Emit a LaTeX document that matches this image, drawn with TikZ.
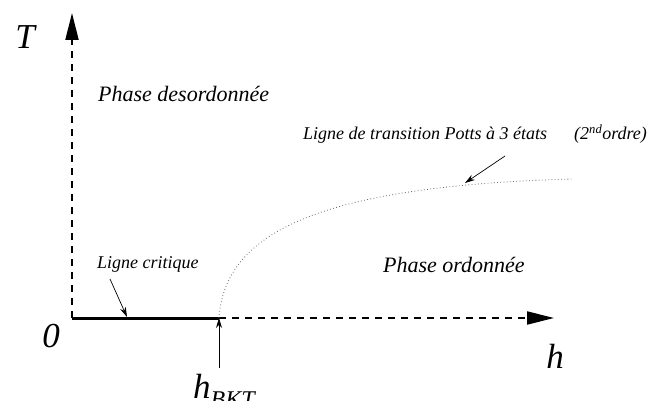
\documentclass[tikz,border=0pt]{standalone}
\usepackage{fontspec}
\setmainfont{Liberation Serif}
\newfontfamily\timesit{Liberation Serif Italic}
\usetikzlibrary{arrows.meta}
\begin{document}
\begin{tikzpicture}[
        x=1pt, y=-1pt,
        axis/.style={line width=2pt, dash pattern=on 7pt off 6pt},
        bigtip/.style={-{Triangle[length=27pt, width=13pt]}},
        pointer/.style={-{Stealth[length=10pt, width=6pt]}, line width=0.7pt},
        big/.style={font=\timesit\fontsize{35}{40}\selectfont, inner sep=0pt},
        phase/.style={font=\timesit\fontsize{22}{26}\selectfont, inner sep=0pt, anchor=base west},
        note/.style={font=\timesit\fontsize{18}{22}\selectfont, inner sep=0pt, anchor=base west},
      ]
        \useasboundingbox (0,0) rectangle (648,401);

        % Axes
        \coordinate (O) at (72,318);
        \coordinate (Ttip) at (72,13);
        \coordinate (htip) at (554,318);
        \coordinate (hBKT) at (219,318);
        \draw[axis, bigtip] (O) -- (Ttip);
        \draw[axis, bigtip] (hBKT) -- (htip);
        \draw[line width=3pt] (O) -- (hBKT);

        \node[big] (T) at (25,37) {T};
        \node[big] (zero) at (51,336) {0};
        \node[big] (h) at (555,356) {h};
        \node[big, anchor=base west] (hb) at (193,398)
          {h\raisebox{-0.28em}{\fontsize{24}{26}\selectfont BKT}};
        \draw[pointer] (hb.north -| hBKT) ++(0,-6) -- (hBKT);

        % Transition line
        \coordinate (cend) at (572,179);
        \draw[line width=0.8pt, gray!80!black, dash pattern=on 0.8pt off 2.4pt]
          (hBKT) .. controls (225,228) and (330,186) .. (cend);

        % Phases
        \node[phase] (desord) at (98,102) {Phase desordonnée};
        \node[phase] (ord) at (383,272) {Phase ordonnée};

        % Labels with pointers
        \node[note] (crit) at (97,268) {Ligne critique};
        \coordinate (critA) at (110,279);
        \coordinate (critB) at (127,317);
        \draw[pointer] (critA) -- (critB);

        \node[note] (potts) at (303,140) {Ligne de transition Potts à 3 états};
        \node[note] (ordre) at (574,140) {(2\textsuperscript{nd}ordre)};
        \coordinate (pottsA) at (505,156);
        \coordinate (pottsB) at (465,183);
        \draw[pointer] (pottsA) -- (pottsB);
      \end{tikzpicture}
\end{document}
